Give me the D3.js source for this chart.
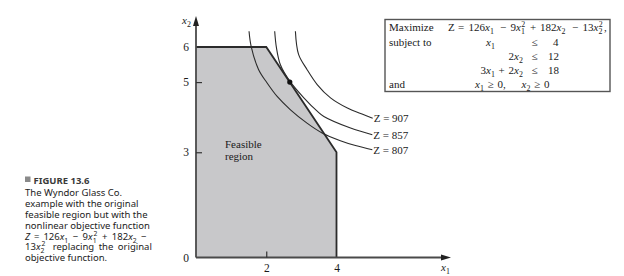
<!DOCTYPE html>
<html><head><meta charset="utf-8">
<script src="https://cdn.jsdelivr.net/npm/d3@7"></script>
<style>
html,body{margin:0;padding:0;background:#fff;}
svg{display:block;}
</style></head>
<body>
<svg id="chart" width="624" height="276"></svg>
<script>
// ---- data ----
const xTicks = [2, 4];
const yTicks = [0, 3, 5, 6];
const feasible = [[0,0],[0,6],[2,6],[4,3],[4,0]];
const optimum = [2.67, 5];
const contourLevels = ["Z = 907", "Z = 857", "Z = 807"];
const curve907 = [[2.83,6.45],[2.92,5.79],[3.16,5.36],[3.45,4.93],[3.83,4.55],[4.31,4.26],[4.78,4.07],[5.03,3.97]];
const curve857 = [[2.24,6.45],[2.29,5.98],[2.40,5.50],[2.66,5.04],[3.07,4.55],[3.45,4.17],[3.64,4.02],[4.40,3.69],[5.02,3.50]];
const curve807 = [[1.51,6.45],[1.57,6.02],[1.78,5.36],[2.02,4.98],[2.31,4.59],[2.69,4.21],[3.16,3.83],[3.59,3.55],[4.11,3.33],[4.54,3.19],[5.02,3.07]];
const captionLines = [
  "The Wyndor Glass Co.",
  "example with the original",
  "feasible region but with the",
  "nonlinear objective function"
];

const svg = d3.select("#chart");
const serif = "'Liberation Serif','Times New Roman',serif";
const sans = "'Noto Sans','Open Sans',sans-serif";

const x = d3.scaleLinear().domain([0, 4]).range([196, 336.5]);
const y = d3.scaleLinear().domain([0, 6]).range([257.5, 47]);

// rich text helper
function rich(g, px, py, segs, size, family) {
  const t = g.append("text").attr("x", px).attr("y", py)
    .attr("font-family", family || serif).attr("font-size", size || 11).attr("fill", "#1a1a1a");
  let cur = 0;
  segs.forEach(s => {
    if (typeof s === "string") s = {t: s};
    const ts = t.append("tspan").text(s.t);
    const shift = s.sub ? 3 : (s.sup ? -4 : 0);
    ts.attr("dy", shift - cur);
    cur = shift;
    if (s.i) ts.attr("font-style", "italic");
    if (s.sub || s.sup) ts.attr("font-size", (size || 11) * 0.72);
    if (s.dx !== undefined) ts.attr("dx", s.dx);
  });
  return t;
}

// feasible region
svg.append("path")
  .attr("d", d3.line().x(d => x(d[0])).y(d => y(d[1]))(feasible) + "Z")
  .attr("fill", "#c8c8ca").attr("stroke", "none");
svg.append("path")
  .attr("d", d3.line().x(d => x(d[0])).y(d => y(d[1]))(feasible.slice(1)))
  .attr("fill", "none").attr("stroke", "#2b2b2b").attr("stroke-width", 1.8);

// axes
const axCol = "#4a4a4a";
svg.append("line").attr("x1", x(0)).attr("x2", 443).attr("y1", y(0)).attr("y2", y(0))
  .attr("stroke", axCol).attr("stroke-width", 1.8);
svg.append("path").attr("d", `M451,${y(0)} L441,${y(0)-3} L441,${y(0)+3} Z`).attr("fill", "#222");
svg.append("line").attr("x1", x(0)).attr("x2", x(0)).attr("y1", y(0)).attr("y2", 25)
  .attr("stroke", axCol).attr("stroke-width", 1.8);
svg.append("path").attr("d", `M${x(0)},16 L${x(0)-3},26 L${x(0)+3},26 Z`).attr("fill", "#222");

const xAxis = svg.append("g").attr("transform", `translate(0,${y(0)})`)
  .call(d3.axisBottom(x).tickValues(xTicks).tickSize(-6).tickPadding(6).tickFormat(d3.format("d")));
const yAxis = svg.append("g").attr("transform", `translate(${x(0)},0)`)
  .call(d3.axisLeft(y).tickValues(yTicks).tickSize(-6).tickPadding(7).tickFormat(d3.format("d")));
[xAxis, yAxis].forEach(a => {
  a.select(".domain").remove();
  a.selectAll("line").attr("stroke", "#333").attr("stroke-width", 1.2);
  a.selectAll("text").attr("font-family", serif).attr("font-size", 11.5).attr("fill", "#1a1a1a");
});
yAxis.selectAll(".tick").filter(d => d === 0 || d === 6).select("line").remove();
xAxis.selectAll(".tick").filter(d => d === 4).select("line").remove();

rich(svg, 182, 24, [{t: "x", i: true}, {t: "2", sub: true}], 11);
rich(svg, 441, 271, [{t: "x", i: true}, {t: "1", sub: true}], 11);

// contour curves
const cl = d3.line().x(d => x(d[0])).y(d => y(d[1])).curve(d3.curveCatmullRom.alpha(0.5));
[curve907, curve857, curve807].forEach((c, i) => {
  svg.append("path").attr("d", cl(c)).attr("fill", "none")
    .attr("stroke", "#2b2b2b").attr("stroke-width", 1.1);
  const last = c[c.length - 1];
  svg.append("text").attr("x", x(last[0]) + 1).attr("y", y(last[1]) + 4)
    .attr("font-family", serif).attr("font-size", 11).attr("fill", "#1a1a1a")
    .text(contourLevels[i]);
});

// optimum point
svg.append("circle").attr("cx", x(optimum[0])).attr("cy", y(optimum[1])).attr("r", 2.6).attr("fill", "#111");

// Feasible region label
svg.append("text").attr("x", 225).attr("y", 148).attr("font-family", serif).attr("font-size", 11).attr("fill", "#1a1a1a").text("Feasible");
svg.append("text").attr("x", 225).attr("y", 159.5).attr("font-family", serif).attr("font-size", 11).attr("fill", "#1a1a1a").text("region");

// model box
svg.append("rect").attr("x", 385).attr("y", 19.5).attr("width", 225).attr("height", 72)
  .attr("fill", "#fff").attr("stroke", "#555").attr("stroke-width", 1.4);
const bx = svg.append("g");
const X = {t: "x", i: true};
rich(bx, 389, 31, ["Maximize"]);
rich(bx, 448, 31, ["Z"]);
rich(bx, 458, 31, ["="]);
rich(bx, 468.5, 31, ["126", X, {t: "1", sub: true}]);
rich(bx, 500, 31, ["\u2212"]);
rich(bx, 510.5, 31, ["9", X, {t: "1", sub: true}, {t: "2", sup: true, dx: -3.5}]);
rich(bx, 530, 31, ["+"]);
rich(bx, 540, 31, ["182", X, {t: "2", sub: true}]);
rich(bx, 572, 31, ["\u2212"]);
rich(bx, 582.5, 31, ["13", X, {t: "2", sub: true}, {t: "2", sup: true, dx: -3.5}]);
rich(bx, 604, 31, [","]);

rich(bx, 389, 46, ["subject to"]);
rich(bx, 486, 46, [X, {t: "1", sub: true}]);
rich(bx, 531.5, 46, ["\u2264"]);
rich(bx, 553, 46, ["4"]);

rich(bx, 508.5, 59.5, ["2", X, {t: "2", sub: true}]);
rich(bx, 531.5, 59.5, ["\u2264"]);
rich(bx, 548, 59.5, ["12"]);

rich(bx, 480.5, 73.5, ["3", X, {t: "1", sub: true}, {t: " + ", dx: 1}, {t: "2", dx: 1}, X, {t: "2", sub: true}]);
rich(bx, 531.5, 73.5, ["\u2264"]);
rich(bx, 548, 73.5, ["18"]);

rich(bx, 389, 88, ["and"]);
rich(bx, 475, 88, [X, {t: "1", sub: true}, {t: " \u2265 ", dx: 1}, {t: "0,", dx: 1}]);
rich(bx, 521.5, 88, [X, {t: "2", sub: true}, {t: " \u2265 ", dx: 1}, {t: "0", dx: 1}]);

// caption
const cap = svg.append("g");
cap.append("rect").attr("x", 25).attr("y", 176.5).attr("width", 5.5).attr("height", 5.5).attr("fill", "#8a8a8a");
cap.append("text").attr("x", 33.5).attr("y", 183.5).attr("font-family", sans).attr("font-size", 9.5)
  .attr("font-weight", "bold").attr("fill", "#3a3a3a").text("FIGURE 13.6");
const capY = [195.5, 206.5, 217.5, 228.5];
captionLines.forEach((l, i) => {
  cap.append("text").attr("x", 25).attr("y", capY[i]).attr("font-family", sans).attr("font-size", 9.5)
    .attr("fill", "#222").text(l);
});
const CX = {t: "x", i: true};
rich(cap, 25, 239.5, [{t: "Z", i: true}, {t: " = ", dx: 1.5}, {t: "126", dx: 1.5}, CX, {t: "1", sub: true},
  {t: " \u2212 ", dx: 2}, {t: "9", dx: 2}, CX, {t: "1", sub: true}, {t: "2", sup: true, dx: -3},
  {t: " + ", dx: 2}, {t: "182", dx: 2}, CX, {t: "2", sub: true}, {t: " \u2212", dx: 2}], 9.5, sans)
  .attr("fill", "#222");
rich(cap, 25, 250, ["13", CX, {t: "2", sub: true}, {t: "2", sup: true, dx: -3}, {t: " replacing the original", dx: 3}], 9.5, sans)
  .attr("fill", "#222").attr("word-spacing", 2);
cap.append("text").attr("x", 25).attr("y", 260.5).attr("font-family", sans).attr("font-size", 9.5)
  .attr("fill", "#222").text("objective function.");
</script>
</body></html>
